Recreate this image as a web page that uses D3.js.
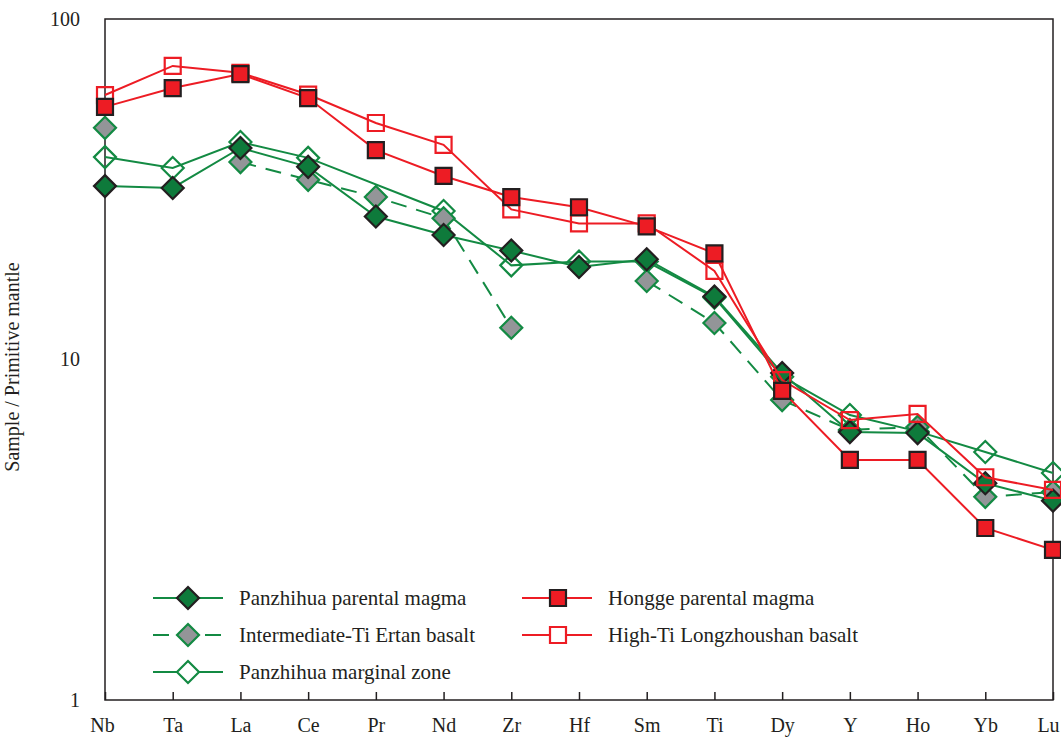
<!DOCTYPE html>
<html>
<head>
<meta charset="utf-8">
<script src="https://cdn.jsdelivr.net/npm/d3@7"></script>
<style>
  body { margin: 0; background: #fff; }
  svg text { font-family: "Liberation Serif", "DejaVu Serif", serif; fill: #231f20; }
  .axis path { display: none; }
  .axis line { stroke: #231f20; stroke-width: 1.5px; }
</style>
</head>
<body>
<div id="chart"></div>
<script>
  // elements, primitive-mantle normalised
  var elements = ["Nb", "Ta", "La", "Ce", "Pr", "Nd", "Zr", "Hf", "Sm", "Ti", "Dy", "Y", "Ho", "Yb", "Lu"];
  var yTicks = [1, 10, 100];

  var panzhihuaParental = [32.3, 31.9, 41.8, 36.8, 26.3, 23.2, 20.9, 18.7, 19.7, 15.3, 9.12, 6.12, 6.08, 4.33, 3.85];
  var ertanBasalt       = [47.9, null, 38.0, 33.7, 30.0, 26.0, 12.4, null, 17.0, 12.8, 7.6, 6.21, 6.34, 3.95, 4.08];
  var panzhihuaMarginal = [39.3, 36.5, 43.5, 39.1, null, 27.3, 18.9, 19.4, 19.4, 15.2, 8.9, 6.87, 6.15, 5.35, 4.64];
  var honggeParental    = [55.2, 62.7, 68.9, 58.6, 41.2, 34.6, 30.0, 28.0, 24.6, 20.5, 8.09, 5.07, 5.07, 3.2, 2.76];
  var longzhoushan      = [59.8, 72.8, 69.5, 60.0, 49.5, 42.7, 27.6, 25.1, 25.1, 18.2, 8.7, 6.64, 6.92, 4.51, 4.14];

  var green = "#138a43", red = "#ed1c24", dark = "#231f20";
  var serif = '"Liberation Serif", "DejaVu Serif", serif';

  var series = [
    {name: "Panzhihua parental magma", values: panzhihuaParental, shape: "diamond", line: green, fill: "#0e7a3b", stroke: dark, dash: null, joinGaps: true},
    {name: "Intermediate-Ti Ertan basalt", values: ertanBasalt, shape: "diamond", line: green, fill: "#939598", stroke: green, dash: "16,10", joinGaps: false},
    {name: "Panzhihua marginal zone", values: panzhihuaMarginal, shape: "diamond", line: green, fill: "none", stroke: green, dash: null, joinGaps: true},
    {name: "Hongge parental magma", values: honggeParental, shape: "square", line: red, fill: red, stroke: dark, dash: null, joinGaps: true},
    {name: "High-Ti Longzhoushan basalt", values: longzhoushan, shape: "square", line: red, fill: "none", stroke: red, dash: null, joinGaps: true}
  ];

  var drawOrder = [2, 1, 0, 4, 3];

  var W = 1061, H = 738;
  var margin = {top: 19, right: 8, bottom: 38, left: 105};
  var width = W - margin.left - margin.right;
  var height = H - margin.top - margin.bottom;

  var svg = d3.select("#chart").append("svg")
    .attr("width", W)
    .attr("height", H)
    .attr("font-family", serif);

  var g = svg.append("g")
    .attr("transform", "translate(" + margin.left + "," + margin.top + ")");

  var x = d3.scalePoint().domain(elements).range([0, width]).padding(0);
  var y = d3.scaleLog().domain([1, 100]).range([height, 0]);

  // frame
  g.append("rect")
    .attr("width", width)
    .attr("height", height)
    .attr("fill", "none")
    .attr("stroke", dark)
    .attr("stroke-width", 1.5);

  var xAxis = d3.axisBottom(x).tickSizeInner(-8).tickSizeOuter(0).tickPadding(18);
  var xg = g.append("g")
    .attr("class", "x axis")
    .attr("transform", "translate(0," + height + ")")
    .call(xAxis)
    .attr("font-family", serif);
  xg.selectAll("text")
    .style("font-family", serif)
    .style("font-size", "20px")
    .attr("x", function(d) { return d === "Lu" ? -5 : (d === "Nb" ? -3 : 0); });

  var yAxis = d3.axisLeft(y).tickValues(yTicks).tickFormat(d3.format("d")).tickSize(0).tickPadding(25);
  var yg = g.append("g")
    .attr("class", "y axis")
    .call(yAxis)
    .attr("font-family", serif);
  yg.selectAll("text")
    .style("font-family", serif)
    .style("font-size", "20px")
    .attr("dy", "0.3em");

  svg.append("text")
    .attr("transform", "translate(19,367) rotate(-90)")
    .attr("text-anchor", "middle")
    .style("font-family", serif)
    .style("font-size", "20px")
    .text("Sample / Primitive mantle");

  function markerPath(shape) {
    if (shape === "diamond") return "M0,-11L11,0L0,11L-11,0Z";
    return "M-8,-8H8V8H-8Z";
  }

  drawOrder.forEach(function(i) {
    var s = series[i];
    var pts = elements.map(function(e, j) { return {e: e, v: s.values[j]}; });
    var line = d3.line()
      .defined(function(d) { return d.v != null; })
      .x(function(d) { return x(d.e); })
      .y(function(d) { return y(d.v); });
    var linePts = s.joinGaps ? pts.filter(function(d) { return d.v != null; }) : pts;

    g.append("path")
      .datum(linePts)
      .attr("fill", "none")
      .attr("stroke", s.line)
      .attr("stroke-width", 2)
      .attr("stroke-dasharray", s.dash)
      .attr("d", line);

    g.selectAll(null)
      .data(pts.filter(function(d) { return d.v != null; }))
      .enter().append("path")
      .attr("transform", function(d) { return "translate(" + x(d.e) + "," + y(d.v) + ")"; })
      .attr("d", markerPath(s.shape))
      .attr("fill", s.fill)
      .attr("stroke", s.stroke)
      .attr("stroke-width", 2.2);
  });

  // legend
  var legendPos = [
    {lx: 48, ly: 579}, {lx: 48, ly: 616}, {lx: 48, ly: 653},
    {lx: 417, ly: 579}, {lx: 417, ly: 616}
  ];

  series.forEach(function(s, i) {
    var p = legendPos[i];
    var lg = g.append("g").attr("transform", "translate(" + p.lx + "," + p.ly + ")");
    if (s.dash) {
      lg.append("line").attr("x1", 0).attr("x2", 16).attr("stroke", s.line).attr("stroke-width", 2);
      lg.append("line").attr("x1", 52).attr("x2", 68).attr("stroke", s.line).attr("stroke-width", 2);
    } else {
      lg.append("line").attr("x1", 0).attr("x2", 70).attr("stroke", s.line).attr("stroke-width", 2);
    }
    lg.append("path")
      .attr("transform", "translate(" + (s.shape === "diamond" ? 35 : 36) + ",0)")
      .attr("d", markerPath(s.shape))
      .attr("fill", s.fill === "none" ? "#fff" : s.fill)
      .attr("stroke", s.stroke)
      .attr("stroke-width", 2.2);
    lg.append("text")
      .attr("x", 86)
      .attr("dy", "0.32em")
      .style("font-family", serif)
      .style("font-size", "21px")
      .text(s.name);
  });
</script>
</body>
</html>
